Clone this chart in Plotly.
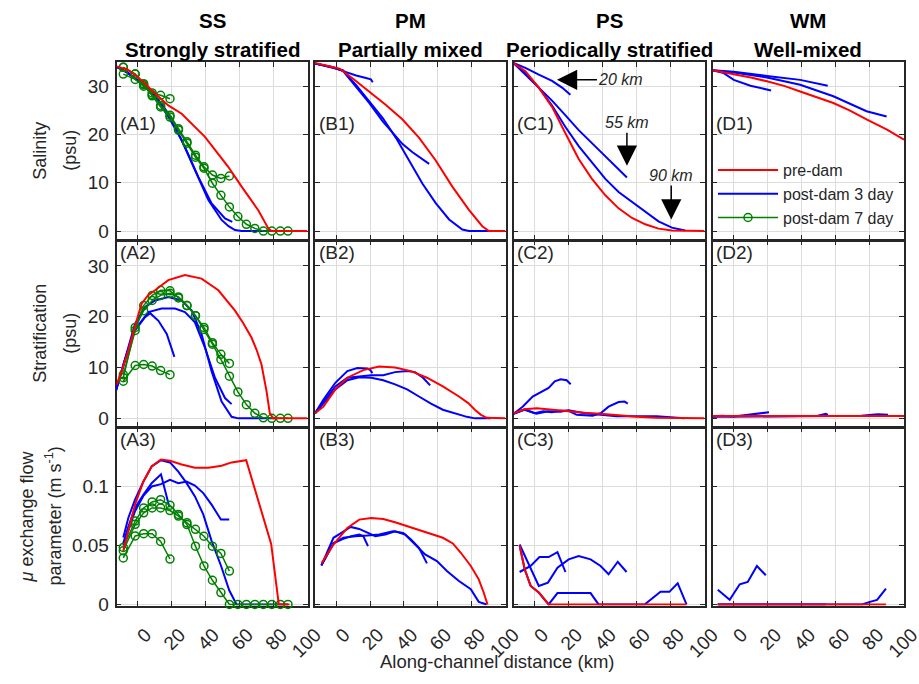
import plotly.graph_objects as go
from plotly.subplots import make_subplots

# ---------------- data ----------------
# common along-channel stations of the 7-day runs (km)
G7 = [-8.5, -1.5, 3.5, 8.5, 13.5, 19, 24, 29, 34, 39, 44, 49, 54, 59, 64, 69, 74, 79, 84, 88.5]

# ---- Row 1: salinity (psu) ----
A1_pre_x = [-12.5, -6, -1.6, 4.3, 8, 12.2, 18, 25.9, 32, 39.6, 46, 53.3, 61.2, 66, 71, 76.9, 78.8, 100]
A1_pre_y = [34.1, 33.4, 32.3, 30.6, 29.2, 27.8, 26.0, 24.3, 22.2, 19.5, 16.6, 13.3, 9.2, 6.8, 4.3, 0.55, 0, 0]
A1_d3_long_x = [-12.4, -6, 0, 4.3, 10.2, 18, 25.9, 33.7, 41.6, 49.4, 53.5, 57.3, 61.2, 82]
A1_d3_long_y = [34.0, 32.8, 31.2, 30.2, 27.8, 23.7, 18.8, 12.6, 6.4, 2.3, 1.0, 0.2, 0, 0]
A1_d3_mid_x = [-12.4, -6, 0, 4.3, 10.2, 20, 27.8, 35.7, 43.5, 51.4, 55.7]
A1_d3_mid_y = [34.0, 32.8, 31.2, 30.0, 28.1, 23.0, 17.4, 11.2, 5.7, 2.6, 1.9]
A1_d3_short_x = [-12.4, -6, 0, 5, 10, 15, 20]
A1_d3_short_y = [34.0, 32.8, 31.2, 29.5, 27.9, 25.8, 23.4]
A1_d7_short_y = [32.5, 31.4, 30.0, 28.6, 28.1, 27.4]
A1_d7_mid_y = [33.9, 32.5, 30.5, 28.2, 26.0, 24.0, 21.2, 18.5, 15.7, 13.3, 11.6, 10.9, 11.4]
A1_d7_long_y = [33.9, 32.5, 30.3, 28.0, 25.7, 23.6, 20.9, 18.2, 15.3, 13.0, 9.9, 7.4, 5.0, 3.0, 1.4, 0.55, 0, 0, 0, 0]

B1_pre_x = [-12.5, -5.9, 2, 9.8, 19.6, 29.4, 39.2, 49, 58.8, 68.6, 78.4, 83, 86.3, 90.2, 100]
B1_pre_y = [34.8, 34.3, 33.6, 31.6, 28.9, 26.1, 23.1, 19.3, 14.6, 9.2, 4.4, 2.3, 1.0, 0, 0]
B1_d3_long_x = [-12.5, -2, 3.9, 11.8, 19.6, 27.5, 35.3, 43.1, 51, 58.8, 66.7, 74.5, 78.4, 90.2]
B1_d3_long_y = [34.7, 33.9, 33.3, 30.2, 26.8, 23.4, 19.3, 14.6, 9.8, 5.8, 2.4, 0.3, 0, 0]
B1_d3_mid_x = [-12.5, -2, 3.9, 11.8, 19.6, 27.5, 33.3, 39.2, 45.1, 51, 54.9]
B1_d3_mid_y = [34.7, 33.9, 33.2, 29.9, 26.5, 22.7, 20.4, 18.0, 16.3, 14.9, 13.9]
B1_d3_short_x = [-12.5, -2, 5.9, 11.8, 17.6, 20.5, 21.6]
B1_d3_short_y = [34.7, 33.9, 32.9, 32.2, 31.7, 31.4, 30.8]

C1_pre_x = [-12.5, -5.5, 2.4, 10.2, 18, 25.9, 33.7, 41.6, 49.4, 57.3, 65.1, 72.9, 80.8, 100]
C1_pre_y = [34.8, 33.1, 29.7, 25.7, 20.3, 14.9, 10.8, 7.4, 4.7, 2.7, 1.4, 0.5, 0.1, 0]
C1_d3_long_x = [-12.5, -5.5, 2.4, 10.2, 18, 25.9, 33.7, 41.6, 49.4, 57.3, 65.1, 72.9, 80.8, 88.6]
C1_d3_long_y = [34.8, 32.8, 29.7, 26.0, 21.6, 17.6, 14.2, 10.8, 8.1, 6.1, 4.1, 2.0, 0.7, 0.1]
C1_d3_mid_x = [-12.5, -5.5, 2.4, 10.2, 18, 25.9, 33.7, 41.6, 49.4, 54.3]
C1_d3_mid_y = [34.8, 32.4, 29.7, 27.0, 24.0, 20.9, 18.2, 15.5, 12.8, 11.1]
C1_d3_short_x = [-12.5, -5.5, 2.4, 10.2, 16.1, 21]
C1_d3_short_y = [34.8, 33.8, 32.4, 31.1, 29.7, 28.2]

D1_pre_x = [-12.5, 0, 10, 19.5, 30, 39, 50, 58.5, 68, 78, 90, 100]
D1_pre_y = [33.3, 32.5, 31.8, 31.0, 30.0, 28.9, 27.6, 26.5, 25.0, 23.1, 21.0, 18.9]
D1_d3_long_x = [-12.5, 0, 19.5, 39, 58.5, 78, 89.8]
D1_d3_long_y = [33.3, 32.8, 31.8, 30.3, 27.9, 24.8, 23.7]
D1_d3_mid_x = [-12.5, 0, 19.5, 39, 55.2]
D1_d3_mid_y = [33.3, 33.0, 32.1, 31.3, 30.1]
D1_d3_short_x = [-12.5, -5.9, 0, 9.8, 21.9]
D1_d3_short_y = [33.3, 32.7, 31.3, 30.1, 29.1]

# ---- Row 2: stratification (psu) ----
A2_pre_x = [-12.5, -9.4, -6, -3.5, 0, 2.4, 6, 10.2, 18, 27.8, 37.6, 47.5, 57.3, 62, 67, 70, 72.9, 75.9, 77.8, 79.8, 100]
A2_pre_y = [6.6, 9.3, 12.8, 15.9, 20.0, 22.6, 24.2, 25.2, 27.2, 28.2, 27.5, 25.2, 21.2, 18.8, 15.9, 13.5, 10.6, 5.3, 1.0, 0, 0]
A2_d3_long_x = [-12.7, -7.5, -1.6, 4.3, 10.2, 18, 25.9, 31.8, 37.6, 43.5, 49.4, 55.3, 59.2, 82]
A2_d3_long_y = [5.6, 11.9, 18.6, 21.9, 23.2, 23.9, 23.2, 21.2, 16.6, 9.3, 3.3, 0.3, 0, 0]
A2_d3_mid_x = [-12.7, -7.5, -1.6, 6.3, 14.1, 22, 27.8, 33.7, 39.6, 45.5, 51.4, 55.3]
A2_d3_mid_y = [5.6, 11.5, 17.5, 20.9, 21.6, 21.6, 20.9, 18.9, 13.9, 8.0, 4.0, 2.8]
A2_d3_short_x = [-12.7, -7.5, -1.6, 4.3, 7.3, 12.2, 17.1, 21.6]
A2_d3_short_y = [5.6, 11.5, 17.3, 19.9, 20.7, 19.2, 16.6, 12.1]
A2_d7_short_y = [7.3, 10.4, 10.6, 10.3, 9.4, 8.6]
A2_d7_mid_y = [8.6, 17.3, 22.2, 24.2, 25.2, 25.1, 23.7, 22.2, 20.2, 17.9, 14.9, 12.6, 10.8]
A2_d7_long_y = [8.0, 17.9, 21.2, 23.2, 24.2, 24.6, 23.9, 22.2, 20.2, 17.5, 14.6, 11.6, 8.3, 5.2, 2.7, 1.0, 0.1, 0, 0, 0]

B2_pre_x = [-12.5, -7.5, -0.5, 6.6, 16, 25.4, 34.8, 44.2, 53.6, 63, 72.5, 78, 81.9, 85.5, 88.9, 100]
B2_pre_y = [1.0, 2.3, 5.7, 8.0, 9.5, 10.2, 10.0, 9.3, 8.0, 6.3, 4.3, 3.0, 1.7, 0.7, 0.1, 0]
B2_d3_long_x = [-12.5, -7.5, -0.5, 6.6, 13.6, 20.7, 27.8, 34.8, 41.9, 48.9, 56, 63, 70.1, 77.2, 81.9, 91.3]
B2_d3_long_y = [1.0, 3.0, 5.7, 7.5, 8.1, 8.0, 7.5, 6.7, 5.7, 4.3, 2.9, 1.7, 1.0, 0.3, 0, 0]
B2_d3_mid_x = [-12.5, -7.5, -0.5, 6.6, 13.6, 20.7, 27.8, 34.8, 41.9, 46.6, 51.3, 55.5]
B2_d3_mid_y = [1.0, 3.3, 6.3, 8.0, 8.3, 8.5, 8.5, 9.1, 9.3, 9.1, 8.0, 6.5]
B2_d3_short_x = [-12.5, -7.5, -0.5, 6.6, 12.5, 18.4, 20.2, 21.4]
B2_d3_short_y = [1.0, 3.7, 7.0, 9.3, 9.9, 9.8, 9.5, 8.9]

C2_pre_x = [-12.5, -5.9, 1.2, 10.6, 20, 29.4, 38.8, 48.2, 60, 71.8, 85, 100]
C2_pre_y = [1.0, 1.8, 2.0, 1.7, 1.3, 1.1, 0.9, 0.6, 0.3, 0.1, 0.0, 0.0]
C2_d3_long_x = [-12.5, -6, 1, 8, 15, 20, 29.4, 38.8, 48.2, 60, 71.8, 80, 88.2]
C2_d3_long_y = [0.9, 1.8, 0.9, 1.4, 1.3, 1.6, 1.0, 0.7, 0.4, 0.4, 0.4, 0.2, 0]
C2_d3_mid_x = [-12.5, -6, 0, 5, 10, 15, 20, 24.7, 34.1, 38.8, 43.5, 49.4, 52.9, 54.8]
C2_d3_mid_y = [0.9, 1.7, 1.0, 1.4, 1.2, 1.5, 1.5, 0.7, 0.5, 1.0, 2.3, 3.2, 3.3, 2.9]
C2_d3_short_x = [-12.5, -7.1, -1.2, 4.7, 8.2, 11.8, 15.3, 18.8, 21.2]
C2_d3_short_y = [0.9, 2.3, 4.3, 5.3, 6.0, 7.3, 7.7, 7.5, 6.7]

D2_pre_x = [-12.5, 100]
D2_pre_y = [0.45, 0.45]
D2_d3_long_x = [-12.5, 0, 20, 40, 60, 75, 80, 84.7, 90.6]
D2_d3_long_y = [0.35, 0.35, 0.4, 0.45, 0.45, 0.5, 0.7, 0.8, 0.7]
D2_d3_mid_x = [-12.5, 0, 20, 40, 49.4, 54.1, 55.3]
D2_d3_mid_y = [0.35, 0.35, 0.4, 0.45, 0.5, 0.9, 0.7]
D2_d3_short_x = [-12.5, -7, 0, 9.4, 18.8, 20.7]
D2_d3_short_y = [0.35, 0.5, 0.35, 0.7, 1.0, 1.2]

# ---- Row 3: mu exchange flow parameter (m/s) ----
A3_pre_x = [-8.5, -5.5, -1.6, 3.3, 8.2, 13.7, 19, 25.9, 33.7, 41.6, 49.4, 55.3, 63.9, 78.6, 83.1, 89.4]
A3_pre_y = [0.0455, 0.0623, 0.0846, 0.104, 0.117, 0.1229, 0.1218, 0.1187, 0.1159, 0.1159, 0.1176, 0.1204, 0.1223, 0.0513, 0, 0]
A3_d3_long_x = [-8.5, -5.5, -1.6, 3.3, 8.2, 13.7, 19, 23.9, 28.8, 33.7, 38.6, 43.5, 49, 53.9, 58.2, 88.5]
A3_d3_long_y = [0.0567, 0.0735, 0.0888, 0.104, 0.117, 0.1223, 0.1204, 0.1126, 0.1028, 0.0916, 0.0763, 0.0539, 0.033, 0.012, 0, 0]
A3_d3_mid_x = [-8.5, -1.6, 3.3, 8.2, 13.7, 19, 23.9, 28.8, 33.7, 38.6, 43.5, 49, 53.9]
A3_d3_mid_y = [0.05, 0.079, 0.092, 0.1, 0.102, 0.1056, 0.1028, 0.1042, 0.1008, 0.0944, 0.0846, 0.072, 0.072]
A3_d3_short_x = [-8.5, -5.5, -1.6, 3.3, 8.2, 13.7, 18.5]
A3_d3_short_y = [0.052, 0.066, 0.0818, 0.093, 0.1028, 0.1103, 0.0832]
A3_d7_short_y = [0.0394, 0.0581, 0.060, 0.060, 0.0534, 0.0385]
A3_d7_mid_y = [0.0455, 0.0679, 0.0777, 0.0818, 0.0818, 0.0796, 0.0749, 0.0693, 0.0637, 0.0578, 0.0494, 0.0432, 0.0283]
A3_d7_long_y = [0.0483, 0.0707, 0.0818, 0.0869, 0.0888, 0.0841, 0.0763, 0.0677, 0.0494, 0.0326, 0.0205, 0.0101, 0, 0, 0, 0, 0, 0, 0, 0]

B3_pre_x = [-8.7, -1.6, 6.6, 13.6, 20.7, 27.8, 34.8, 41.9, 48.9, 56, 63, 68.9, 73.6, 79.5, 84.2, 87.1, 89.4]
B3_pre_y = [0.0348, 0.0508, 0.0649, 0.0719, 0.0733, 0.0725, 0.0697, 0.0663, 0.0629, 0.0593, 0.0565, 0.0517, 0.0438, 0.0326, 0.0213, 0.0101, 0]
B3_d3_long_x = [-8.7, -1.6, 3.1, 8.5, 13.6, 18.4, 23.1, 29, 34.8, 40.7, 46.6, 52.5, 59.5, 65.4, 72.5, 79.5, 84.2, 88.9]
B3_d3_long_y = [0.0331, 0.0565, 0.0607, 0.0657, 0.064, 0.0607, 0.0579, 0.0593, 0.0621, 0.0593, 0.0508, 0.0424, 0.0368, 0.0284, 0.0199, 0.0129, 0.0022, 0]
B3_d3_mid_x = [-8.7, -1.6, 4.2, 11.3, 18.4, 25.4, 33.6, 39.5, 44.2, 48.9, 53.6]
B3_d3_mid_y = [0.0331, 0.0517, 0.0565, 0.0579, 0.0584, 0.0593, 0.0621, 0.0607, 0.0551, 0.048, 0.0348]
B3_d3_short_x = [-8.7, -1.6, 4.2, 8.9, 13.6, 16, 18.8]
B3_d3_short_y = [0.0331, 0.052, 0.0556, 0.0579, 0.0593, 0.058, 0.0494]

C3_pre_x = [-8.9, -5.9, -2.4, 2.4, 8.2, 89.4]
C3_pre_y = [0.05, 0.0298, 0.0157, 0.0101, 0, 0]
C3_d3_long_x = [-8.9, -5.9, -2.4, 2.4, 8.2, 13.4, 32.9, 37.6, 64.7, 74.1, 79.3, 84.2, 89.4]
C3_d3_long_y = [0.05, 0.0298, 0.0157, 0.0101, 0, 0.0096, 0.0096, 0, 0, 0.0107, 0.0107, 0.018, 0]
C3_d3_mid_x = [-8.9, -2.4, 2.4, 7.8, 13.4, 20, 25.9, 32.9, 38.8, 43.5, 48.9, 54.1]
C3_d3_mid_y = [0.0508, 0.03, 0.0157, 0.0185, 0.0312, 0.0382, 0.041, 0.0382, 0.0326, 0.0256, 0.0362, 0.0275]
C3_d3_short_x = [-8.9, -2.4, 2.8, 8.2, 13.4, 18.1]
C3_d3_short_y = [0.0275, 0.0326, 0.0402, 0.0402, 0.0444, 0.0275]

D3_pre_x = [-9.4, 89.4]
D3_pre_y = [0, 0]
D3_d3_long_x = [-9.4, 75.3, 80, 84.2, 89.4]
D3_d3_long_y = [0, 0, 0.0022, 0.0039, 0.0135]
D3_d3_mid_x = [-9.4, 54]
D3_d3_mid_y = [0, 0]
D3_d3_short_x = [-9.4, -2.4, 3.5, 8.2, 13.6, 18.8]
D3_d3_short_y = [0.0124, 0.0039, 0.0171, 0.0191, 0.0326, 0.0247]

col_titles = [("SS", "Strongly stratified"), ("PM", "Partially mixed"),
              ("PS", "Periodically stratified"), ("WM", "Well-mixed")]
row_titles = [["Salinity", "(psu)"], ["Stratification", "(psu)"],
              ["<i>μ</i> exchange flow", "parameter (m s<sup>-1</sup>)"]]
x_ticks = [0, 20, 40, 60, 80, 100]
y_ticks = [[0, 10, 20, 30], [0, 10, 20, 30], [0, 0.05, 0.1]]
y_ticktext = [["0", "10", "20", "30"], ["0", "10", "20", "30"], ["0", "0.05", "0.1"]]
y_ranges = [[-1.75, 35], [-1.7, 35], [-0.0009, 0.15]]
x_range = [-12.5, 100]
legend_names = ["pre-dam", "post-dam 3 day", "post-dam 7 day"]

# ---------------- figure ----------------
RED, BLUE, GREEN = "#ff0000", "#0000ff", "#008000"
FONT = "Liberation Sans, Arial, Helvetica, sans-serif"
INK = "#262626"
W, H = 919, 684

panels = {
    (1, 1): dict(pre=(A1_pre_x, A1_pre_y),
                 d3=[(A1_d3_long_x, A1_d3_long_y), (A1_d3_mid_x, A1_d3_mid_y), (A1_d3_short_x, A1_d3_short_y)],
                 d7=[A1_d7_long_y, A1_d7_mid_y, A1_d7_short_y]),
    (1, 2): dict(pre=(B1_pre_x, B1_pre_y),
                 d3=[(B1_d3_long_x, B1_d3_long_y), (B1_d3_mid_x, B1_d3_mid_y), (B1_d3_short_x, B1_d3_short_y)]),
    (1, 3): dict(pre=(C1_pre_x, C1_pre_y),
                 d3=[(C1_d3_long_x, C1_d3_long_y), (C1_d3_mid_x, C1_d3_mid_y), (C1_d3_short_x, C1_d3_short_y)]),
    (1, 4): dict(pre=(D1_pre_x, D1_pre_y),
                 d3=[(D1_d3_long_x, D1_d3_long_y), (D1_d3_mid_x, D1_d3_mid_y), (D1_d3_short_x, D1_d3_short_y)]),
    (2, 1): dict(pre=(A2_pre_x, A2_pre_y),
                 d3=[(A2_d3_long_x, A2_d3_long_y), (A2_d3_mid_x, A2_d3_mid_y), (A2_d3_short_x, A2_d3_short_y)],
                 d7=[A2_d7_long_y, A2_d7_mid_y, A2_d7_short_y]),
    (2, 2): dict(pre=(B2_pre_x, B2_pre_y),
                 d3=[(B2_d3_long_x, B2_d3_long_y), (B2_d3_mid_x, B2_d3_mid_y), (B2_d3_short_x, B2_d3_short_y)]),
    (2, 3): dict(pre=(C2_pre_x, C2_pre_y),
                 d3=[(C2_d3_long_x, C2_d3_long_y), (C2_d3_mid_x, C2_d3_mid_y), (C2_d3_short_x, C2_d3_short_y)]),
    (2, 4): dict(pre=(D2_pre_x, D2_pre_y),
                 d3=[(D2_d3_long_x, D2_d3_long_y), (D2_d3_mid_x, D2_d3_mid_y), (D2_d3_short_x, D2_d3_short_y)]),
    (3, 1): dict(pre=(A3_pre_x, A3_pre_y),
                 d3=[(A3_d3_long_x, A3_d3_long_y), (A3_d3_mid_x, A3_d3_mid_y), (A3_d3_short_x, A3_d3_short_y)],
                 d7=[A3_d7_long_y, A3_d7_mid_y, A3_d7_short_y]),
    (3, 2): dict(pre=(B3_pre_x, B3_pre_y),
                 d3=[(B3_d3_long_x, B3_d3_long_y), (B3_d3_mid_x, B3_d3_mid_y), (B3_d3_short_x, B3_d3_short_y)]),
    (3, 3): dict(pre=(C3_pre_x, C3_pre_y),
                 d3=[(C3_d3_long_x, C3_d3_long_y), (C3_d3_mid_x, C3_d3_mid_y), (C3_d3_short_x, C3_d3_short_y)]),
    (3, 4): dict(pre=(D3_pre_x, D3_pre_y),
                 d3=[(D3_d3_long_x, D3_d3_long_y), (D3_d3_mid_x, D3_d3_mid_y), (D3_d3_short_x, D3_d3_short_y)]),
}

fig = make_subplots(rows=3, cols=4)

shown = {"pre": False, "d3": False, "d7": False}
for (r, c), p in panels.items():
    for xs, ys in p["d3"]:
        fig.add_trace(go.Scatter(x=xs, y=ys, mode="lines", name=legend_names[1],
                                 line=dict(color=BLUE, width=2), legendrank=2,
                                 showlegend=not shown["d3"], cliponaxis=False,
                                 legendgroup="d3"), row=r, col=c)
        shown["d3"] = True
    for ys in p.get("d7", []):
        fig.add_trace(go.Scatter(x=G7[:len(ys)], y=ys, mode="lines+markers", name=legend_names[2],
                                 line=dict(color=GREEN, width=1.5),
                                 marker=dict(symbol="circle-open", size=8, color=GREEN,
                                             line=dict(width=1.5, color=GREEN)),
                                 legendrank=3, showlegend=not shown["d7"], cliponaxis=False,
                                 legendgroup="d7"), row=r, col=c)
        shown["d7"] = True
    xs, ys = p["pre"]
    fig.add_trace(go.Scatter(x=xs, y=ys, mode="lines", name=legend_names[0],
                             line=dict(color=RED, width=2), legendrank=1,
                             showlegend=not shown["pre"], cliponaxis=False,
                             legendgroup="pre"), row=r, col=c)
    shown["pre"] = True

cols_px = [(116.5, 307.5), (315, 505.5), (513.5, 704.5), (712.5, 904)]
rows_px = [(62, 239.5), (240.5, 427), (427.5, 605.5)]

tickfont = dict(family=FONT, size=19, color=INK)
for r in range(1, 4):
    for c in range(1, 5):
        n = (r - 1) * 4 + c
        sx = "" if n == 1 else str(n)
        x0, x1 = cols_px[c - 1]
        y0, y1 = rows_px[r - 1]
        fig.layout["xaxis" + sx].update(
            domain=[x0 / W, x1 / W], range=x_range, tickvals=x_ticks, automargin=False,
            showticklabels=(r == 3), tickangle=-45, tickfont=tickfont,
            ticklabelstandoff=9, ticklabelshift=8, ticklabeloverflow="allow",
            ticks="inside", ticklen=5, tickcolor=INK, mirror="ticks", layer="below traces",
            showline=True, linecolor=INK, linewidth=1.5,
            showgrid=True, gridcolor="#dcdcdc", gridwidth=1, zeroline=False)
        fig.layout["yaxis" + sx].update(
            domain=[1 - y1 / H, 1 - y0 / H], range=y_ranges[r - 1], automargin=False,
            tickvals=y_ticks[r - 1], ticktext=y_ticktext[r - 1],
            showticklabels=(c == 1), tickfont=tickfont, ticklabelstandoff=2,
            ticks="inside", ticklen=5, tickcolor=INK, mirror="ticks", layer="below traces",
            showline=True, linecolor=INK, linewidth=1.5,
            showgrid=True, gridcolor="#dcdcdc", gridwidth=1, zeroline=False)
        # panel label
        lab = "(" + "ABCD"[c - 1] + str(r) + ")"
        if r == 1:
            fig.add_annotation(xref="x%s domain" % sx, yref="y%s domain" % sx,
                               x=0.01, y=(239.5 - 123) / 177.5, xanchor="left", yanchor="middle",
                               text=lab, showarrow=False, font=dict(family=FONT, size=19, color=INK))
        else:
            fig.add_annotation(xref="x%s domain" % sx, yref="y%s domain" % sx,
                               x=0.01, y=1.005, xanchor="left", yanchor="top",
                               text=lab, showarrow=False, font=dict(family=FONT, size=19, color=INK))

# column titles
for c, (t1, t2) in enumerate(col_titles):
    xc = (cols_px[c][0] + cols_px[c][1]) / 2 / W
    fig.add_annotation(xref="paper", yref="paper", x=xc, y=1 - 21 / H, text="<b>%s</b>" % t1,
                       xanchor="center", yanchor="middle",
                       showarrow=False, font=dict(family=FONT, size=20.5, color="black"))
    fig.add_annotation(xref="paper", yref="paper", x=xc, y=1 - 50 / H, text="<b>%s</b>" % t2,
                       xanchor="center", yanchor="middle",
                       showarrow=False, font=dict(family=FONT, size=20.5, color="black"))

# row titles (rotated)
row_title_x = [(40, 70), (40, 70), (26, 54)]
for r, (l1, l2) in enumerate(row_titles):
    yc = 1 - (rows_px[r][0] + rows_px[r][1]) / 2 / H
    fig.add_annotation(xref="paper", yref="paper", x=row_title_x[r][0] / W, y=yc, text=l1,
                       xanchor="center", yanchor="middle",
                       textangle=-90, showarrow=False, font=dict(family=FONT, size=18, color=INK))
    fig.add_annotation(xref="paper", yref="paper", x=row_title_x[r][1] / W, y=yc, text=l2,
                       xanchor="center", yanchor="middle",
                       textangle=-90, showarrow=False, font=dict(family=FONT, size=18, color=INK))

# x title
fig.add_annotation(xref="paper", yref="paper", x=497 / W, y=1 - 661 / H,
                   xanchor="center", yanchor="middle",
                   text="Along-channel distance (km)", showarrow=False,
                   font=dict(family=FONT, size=18.5, color=INK))

# dam-location arrows in C1
arrow_font = dict(family=FONT, size=16, color=INK)
fig.add_annotation(xref="x3", yref="y3", x=13.1, y=31.3, text="<i>20 km</i>", showarrow=True,
                   ax=64, ay=0, arrowhead=2, arrowsize=2.7, arrowwidth=1.5, arrowcolor="black",
                   standoff=0, font=arrow_font)
fig.add_annotation(xref="x3", yref="y3", x=54.3, y=13.5, text="<i>55 km</i>", showarrow=True,
                   ax=0, ay=-43, arrowhead=2, arrowsize=2.7, arrowwidth=1.5, arrowcolor="black",
                   standoff=0, font=arrow_font)
fig.add_annotation(xref="x3", yref="y3", x=80.4, y=2.4, text="<i>90 km</i>", showarrow=True,
                   ax=0, ay=-44, arrowhead=2, arrowsize=2.7, arrowwidth=1.5, arrowcolor="black",
                   standoff=0, font=arrow_font)

fig.update_layout(
    width=W, height=H, margin=dict(l=0, r=0, t=0, b=0, pad=0, autoexpand=False),
    paper_bgcolor="white", plot_bgcolor="white",
    font=dict(family=FONT, color=INK),
    legend=dict(x=713 / W, y=1 - 153 / H, xanchor="left", yanchor="top",
                font=dict(family=FONT, size=16, color=INK), bgcolor="rgba(0,0,0,0)",
                itemwidth=60, tracegroupgap=0),
)

fig.write_html("out.html",
               post_script="document.body.style.margin='0px';document.body.style.overflow='hidden';")
